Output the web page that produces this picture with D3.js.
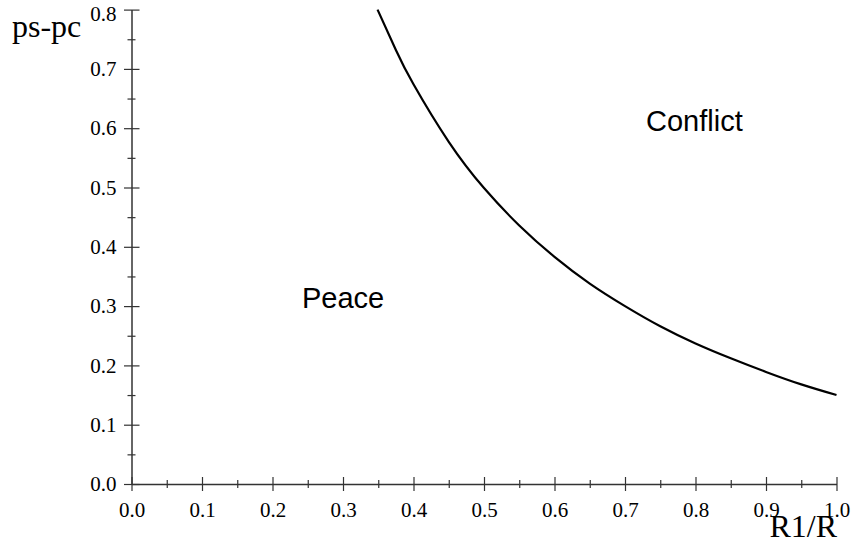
<!DOCTYPE html>
<html lang="en">
  <head>
    <meta charset="UTF-8" />
    <title>Peace / Conflict</title>
    <script src="https://cdn.jsdelivr.net/npm/d3@7"></script>
  </head>
  <body>
    <svg></svg>
    <style>
      body { margin: 0; background: #fff; }
      svg { width: 852px; height: 541px; display: block; }
      .tick text { font-family: "Liberation Serif", "Times New Roman", serif; font-size: 21px; fill: #000; }
    </style>
    <script>
      // curve
      const ratio = [0.349, 0.375, 0.40, 0.45, 0.50, 0.55, 0.60, 0.65, 0.70, 0.75, 0.80, 0.85, 0.90, 0.95, 1.0];
      const diff = [0.800, 0.732, 0.674, 0.577, 0.499, 0.436, 0.383, 0.338, 0.300, 0.266, 0.237, 0.212, 0.189, 0.168, 0.150];
      const xMajor = [0, 0.1, 0.2, 0.3, 0.4, 0.5, 0.6, 0.7, 0.8, 0.9, 1.0];
      const xMinor = [0.05, 0.15, 0.25, 0.35, 0.45, 0.55, 0.65, 0.75, 0.85, 0.95];
      const yMajor = [0, 0.1, 0.2, 0.3, 0.4, 0.5, 0.6, 0.7, 0.8];
      const yMinor = [0.05, 0.15, 0.25, 0.35, 0.45, 0.55, 0.65, 0.75];

      const svg = d3.select("svg").attr("width", 852).attr("height", 541);
      const x = d3.scaleLinear().domain([0, 1]).range([131.5, 836.5]);
      const y = d3.scaleLinear().domain([0, 0.8]).range([484, 9.6]);
      const axisColor = "#333";

      // x axis
      const gx = svg.append("g").attr("transform", "translate(0,484)");
      gx.call(d3.axisBottom(x).tickValues(xMajor).tickFormat(d3.format(".1f")).tickSize(0).tickPadding(18));
      gx.select(".domain").attr("stroke", axisColor).attr("stroke-width", 1.5);
      gx.selectAll(".tick line").attr("y1", -7).attr("y2", 7).attr("stroke", axisColor).attr("stroke-width", 1.2);
      const gxm = svg.append("g").attr("transform", "translate(0,484)");
      gxm.call(d3.axisBottom(x).tickValues(xMinor).tickFormat("").tickSize(0));
      gxm.select(".domain").remove();
      gxm.selectAll(".tick line").attr("y1", -4).attr("y2", 4).attr("stroke", axisColor).attr("stroke-width", 1.2);

      // y axis
      const gy = svg.append("g").attr("transform", "translate(131.5,0)");
      gy.call(d3.axisLeft(y).tickValues(yMajor).tickFormat(d3.format(".1f")).tickSize(0).tickPadding(15));
      gy.select(".domain").attr("stroke", axisColor).attr("stroke-width", 1.5);
      gy.selectAll(".tick line").attr("x1", -7.5).attr("x2", 8).attr("stroke", axisColor).attr("stroke-width", 1.2);
      // top label sits a little lower so it stays inside the picture
      gy.selectAll(".tick text").filter((d) => d === 0.8).attr("dy", "0.5em");
      const gym = svg.append("g").attr("transform", "translate(131.5,0)");
      gym.call(d3.axisLeft(y).tickValues(yMinor).tickFormat("").tickSize(0));
      gym.select(".domain").remove();
      gym.selectAll(".tick line").attr("x1", -4).attr("x2", 4).attr("stroke", axisColor).attr("stroke-width", 1.2);

      // curve
      const line = d3.line()
        .x((d, i) => x(ratio[i]))
        .y((d) => y(d))
        .curve(d3.curveNatural);
      svg.append("path")
        .attr("d", line(diff))
        .attr("fill", "none")
        .attr("stroke", "#000")
        .attr("stroke-width", 2.2);

      // axis titles
      svg.append("text").text("ps-pc")
        .attr("x", 12).attr("y", 37)
        .attr("font-family", "Liberation Serif, serif").attr("font-size", 32);
      svg.append("text").text("R1/R")
        .attr("x", 837).attr("y", 537).attr("text-anchor", "end")
        .attr("font-family", "Liberation Serif, serif").attr("font-size", 32);

      // region labels
      svg.append("text").text("Peace")
        .attr("x", 302).attr("y", 308)
        .attr("font-family", "Liberation Sans, Arial, sans-serif").attr("font-size", 29);
      svg.append("text").text("Conflict")
        .attr("x", 646).attr("y", 131)
        .attr("font-family", "Liberation Sans, Arial, sans-serif").attr("font-size", 29);
    </script>
  </body>
</html>
